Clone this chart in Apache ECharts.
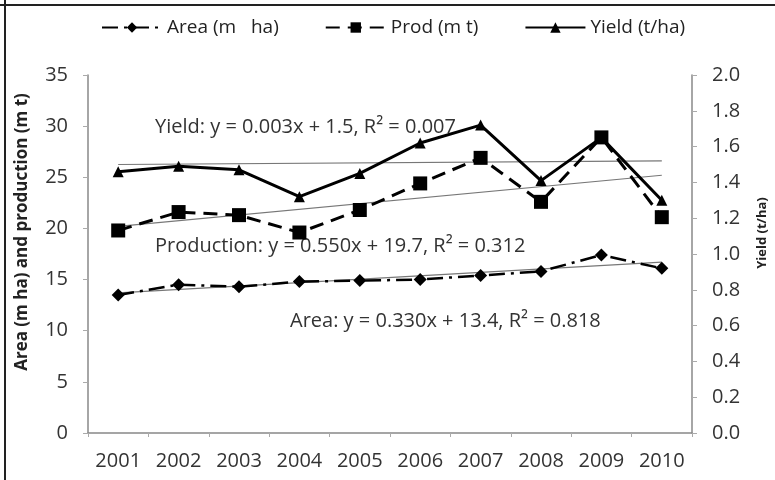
<!DOCTYPE html>
<html>
<head>
<meta charset="utf-8">
<script src="https://cdn.jsdelivr.net/npm/echarts@6/dist/echarts.min.js"></script>
<style>
html, body { margin: 0; padding: 0; background: #fff; }
#chart { width: 775px; height: 480px; }
</style>
</head>
<body>
<div id="chart"></div>
<script>
var years = ['2001', '2002', '2003', '2004', '2005', '2006', '2007', '2008', '2009', '2010'];
var area = [13.5, 14.5, 14.3, 14.8, 14.9, 15.0, 15.4, 15.8, 17.4, 16.1];
var prod = [19.8, 21.6, 21.3, 19.6, 21.8, 24.4, 26.9, 22.6, 28.9, 21.1];
var yieldVals = [1.46, 1.49, 1.47, 1.32, 1.45, 1.62, 1.72, 1.41, 1.65, 1.30];
// trend line end points (2001, 2010)
var areaTrend = [13.7, 16.7];
var prodTrend = [20.2, 25.2];
var yieldTrend = [1.50, 1.52];

var font = '"Open Sans", sans-serif';

var chart = echarts.init(document.getElementById('chart'));

function trend(name, ends, axisIdx) {
    return {
        name: name,
        type: 'line',
        yAxisIndex: axisIdx,
        data: [[0, ends[0]], [years.length - 1, ends[1]]],
        symbol: 'none',
        silent: true,
        lineStyle: { color: '#777', width: 1.2 },
        z: 1
    };
}

var option = {
    animation: false,
    textStyle: { fontFamily: font },
    grid: { left: 88, right: 83, top: 75, bottom: 47 },
    legend: {
        top: 13,
        left: 96,
        itemGap: 46,
        itemWidth: 60,
        itemHeight: 13,
        textStyle: { color: '#222', fontSize: 19, fontFamily: font },
        data: ['Area (m   ha)', 'Prod (m t)', 'Yield (t/ha)']
    },
    xAxis: {
        type: 'category',
        data: years,
        boundaryGap: true,
        axisLine: { lineStyle: { color: '#888', width: 1.5 } },
        axisTick: { show: true, length: 4, lineStyle: { color: '#aaa' } },
        axisLabel: { color: '#333', fontSize: 20, margin: 18, fontFamily: font }
    },
    yAxis: [
        {
            type: 'value',
            min: 0, max: 35, interval: 5,
            axisLine: { show: true, lineStyle: { color: '#888', width: 1.5 } },
            axisTick: { show: true, length: 5, lineStyle: { color: '#aaa' } },
            axisLabel: { color: '#333', fontSize: 20, margin: 20, fontFamily: font },
            splitLine: { show: false }
        },
        {
            type: 'value',
            min: 0, max: 2, interval: 0.2,
            axisLine: { show: true, lineStyle: { color: '#888', width: 1.5 } },
            axisTick: { show: true, length: 5, lineStyle: { color: '#aaa' } },
            axisLabel: { color: '#333', fontSize: 20, margin: 20, fontFamily: font,
                formatter: function (v) { return v.toFixed(1); } },
            splitLine: { show: false }
        }
    ],
    series: [
        trend('areaTrend', areaTrend, 0),
        trend('prodTrend', prodTrend, 0),
        trend('yieldTrend', yieldTrend, 1),
        {
            name: 'Area (m   ha)',
            type: 'line',
            data: area,
            symbol: 'diamond',
            symbolSize: 13,
            itemStyle: { color: '#000' },
            lineStyle: { color: '#000', width: 2.5, type: [16, 6, 3, 6] },
            z: 3
        },
        {
            name: 'Prod (m t)',
            type: 'line',
            data: prod,
            symbol: 'rect',
            symbolSize: 14,
            itemStyle: { color: '#000' },
            lineStyle: { color: '#000', width: 3, type: [14, 8] },
            z: 3
        },
        {
            name: 'Yield (t/ha)',
            type: 'line',
            yAxisIndex: 1,
            data: yieldVals,
            symbol: 'triangle',
            symbolSize: 11,
            itemStyle: { color: '#000' },
            lineStyle: { color: '#000', width: 3 },
            z: 4
        }
    ],
    graphic: [
        { type: 'line', shape: { x1: 5, y1: 0, x2: 5, y2: 480 }, style: { stroke: '#222', lineWidth: 2 } },
        { type: 'line', shape: { x1: 0, y1: 5, x2: 775, y2: 5 }, style: { stroke: '#222', lineWidth: 2 } },
        { type: 'text', x: 22, y: 232, rotation: Math.PI / 2,
          style: { text: 'Area (m ha) and production (m t)', fill: '#222', font: 'bold 17px ' + font,
                   textAlign: 'center', textVerticalAlign: 'middle' } },
        { type: 'text', x: 762, y: 233, rotation: Math.PI / 2,
          style: { text: 'Yield (t/ha)', fill: '#222', font: 'bold 13px ' + font,
                   textAlign: 'center', textVerticalAlign: 'middle' } },
        { type: 'text', x: 155, y: 127, style: { text: 'Yield: y = 0.003x + 1.5, R² = 0.007', fill: '#333',
          font: '20px ' + font, textVerticalAlign: 'middle' } },
        { type: 'text', x: 155, y: 246, style: { text: 'Production: y = 0.550x + 19.7, R² = 0.312', fill: '#333',
          font: '20px ' + font, textVerticalAlign: 'middle' } },
        { type: 'text', x: 290, y: 321, style: { text: 'Area: y = 0.330x + 13.4, R² = 0.818', fill: '#333',
          font: '20px ' + font, textVerticalAlign: 'middle' } }
    ]
};

chart.setOption(option);
window.addEventListener('resize', function () { chart.resize(); });
</script>
</body>
</html>
